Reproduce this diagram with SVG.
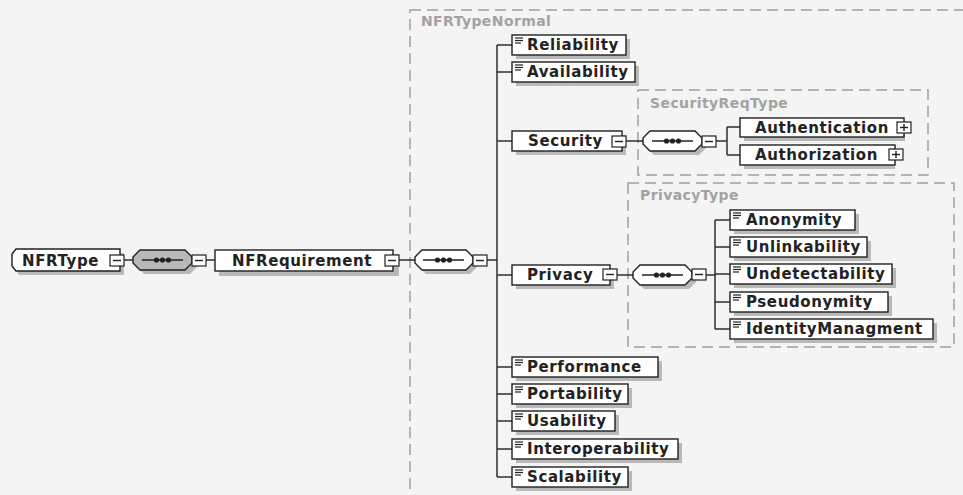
<svg xmlns="http://www.w3.org/2000/svg" width="963" height="495" viewBox="0 0 963 495">
<style>
.bg{fill:#f4f4f4}
.box{fill:#ffffff;stroke:#202020;stroke-width:1.4}
.sh{fill:#b9b9b9}
.t{font-family:"DejaVu Sans",Verdana,sans-serif;font-weight:bold;font-size:15px;letter-spacing:0.6px;fill:#222}
.lbl{font-family:"DejaVu Sans",Verdana,sans-serif;font-weight:bold;font-size:14px;letter-spacing:0.4px;fill:#a2a2a2}
.dash{fill:none;stroke:#9e9e9e;stroke-width:1.5;stroke-dasharray:11,6}
.ln{stroke:#202020;stroke-width:1.4;fill:none}
.btn{fill:#ffffff;stroke:#202020;stroke-width:1.2}
.ico{stroke:#202020;stroke-width:1.2}
</style>
<defs>
<g id="minus"><rect class="btn" x="0" y="0" width="14" height="11"/><line class="ln" x1="3" y1="5.5" x2="11" y2="5.5"/></g>
<g id="plus"><rect class="btn" x="0" y="0" width="14" height="11"/><line class="ln" x1="3" y1="5.5" x2="11" y2="5.5"/><line class="ln" x1="7" y1="2" x2="7" y2="9"/></g>
<g id="elic"><line class="ico" x1="3" y1="3" x2="11" y2="3"/><line class="ico" x1="3" y1="5.5" x2="11" y2="5.5"/><line class="ico" x1="3" y1="8" x2="9" y2="8"/></g>
<g id="dots"><line class="ln" x1="9" y1="10" x2="50" y2="10"/><circle cx="23.5" cy="10" r="2.6" fill="#202020"/><circle cx="29.5" cy="10" r="2.6" fill="#202020"/><circle cx="35.5" cy="10" r="2.6" fill="#202020"/></g>
</defs>
<rect class="bg" x="0" y="0" width="963" height="495"/>

<g id="containers">
<rect class="dash" x="410" y="10" width="600" height="600"/>
<text class="lbl" x="421" y="26">NFRTypeNormal</text>
<rect class="dash" x="638" y="90" width="290" height="85"/>
<text class="lbl" x="650" y="108">SecurityReqType</text>
<rect class="dash" x="628" y="183" width="326" height="164"/>
<text class="lbl" x="640" y="200">PrivacyType</text>
</g>

<g id="connectors">
<line class="ln" x1="124" y1="260" x2="133" y2="260"/>
<line class="ln" x1="206" y1="260" x2="215" y2="260"/>
<line class="ln" x1="399" y1="260" x2="415" y2="260"/>
<line class="ln" x1="487" y1="260" x2="497" y2="260"/>
<line class="ln" x1="497" y1="45" x2="497" y2="477"/>
<line class="ln" x1="497" y1="45" x2="512" y2="45"/>
<line class="ln" x1="497" y1="72" x2="512" y2="72"/>
<line class="ln" x1="497" y1="141" x2="512" y2="141"/>
<line class="ln" x1="497" y1="275" x2="512" y2="275"/>
<line class="ln" x1="497" y1="367" x2="512" y2="367"/>
<line class="ln" x1="497" y1="394" x2="512" y2="394"/>
<line class="ln" x1="497" y1="421" x2="512" y2="421"/>
<line class="ln" x1="497" y1="449" x2="512" y2="449"/>
<line class="ln" x1="497" y1="477" x2="512" y2="477"/>
<line class="ln" x1="626" y1="141" x2="643" y2="141"/>
<line class="ln" x1="716" y1="141" x2="727" y2="141"/>
<line class="ln" x1="727" y1="127" x2="727" y2="155"/>
<line class="ln" x1="727" y1="127" x2="740" y2="127"/>
<line class="ln" x1="727" y1="155" x2="740" y2="155"/>
<line class="ln" x1="617" y1="275" x2="633" y2="275"/>
<line class="ln" x1="706" y1="275" x2="715" y2="275"/>
<line class="ln" x1="715" y1="220" x2="715" y2="329"/>
<line class="ln" x1="715" y1="220" x2="730" y2="220"/>
<line class="ln" x1="715" y1="247" x2="730" y2="247"/>
<line class="ln" x1="715" y1="274" x2="730" y2="274"/>
<line class="ln" x1="715" y1="302" x2="730" y2="302"/>
<line class="ln" x1="715" y1="329" x2="730" y2="329"/>
</g>

<g id="NFRType">
<path class="sh" d="M19,253 H124 V275 H19 L16,270 V258 Z"/>
<path class="box" d="M16,249 H120 V271 H16 L12,266 V254 Z"/>
<text class="t" x="22" y="266">NFRType</text>
<use href="#minus" x="110" y="255"/>
</g>

<g id="seq1">
<path class="sh" d="M144,254 H190 L197,261 V267 L190,274 H144 L137,267 V261 Z"/>
<path d="M140,250 H185 L192,257 V263 L185,270 H140 L133,263 V257 Z" fill="#b8b8b8" stroke="#202020" stroke-width="1.4"/>
<use href="#dots" x="133" y="250"/>
<use href="#minus" x="192" y="255"/>
</g>

<g id="NFRequirement">
<rect class="sh" x="219" y="254" width="180" height="22"/>
<rect class="box" x="215" y="250" width="178" height="21"/>
<text class="t" x="232" y="266">NFRequirement</text>
<use href="#minus" x="385" y="255"/>
</g>

<g id="seq2">
<path class="sh" d="M426,254 H470 L477,261 V267 L470,274 H426 L419,267 V261 Z"/>
<path class="box" d="M422,250 H466 L473,257 V263 L466,270 H422 L415,263 V257 Z"/>
<use href="#dots" x="414" y="250"/>
<use href="#minus" x="473" y="255"/>
</g>

<g id="Reliability">
<rect class="sh" x="516" y="39" width="114" height="20"/>
<rect class="box" x="512" y="35" width="114" height="20"/>
<use href="#elic" x="512" y="35"/>
<text class="t" x="527" y="50">Reliability</text>
</g>
<g id="Availability">
<rect class="sh" x="516" y="66" width="123" height="20"/>
<rect class="box" x="512" y="62" width="123" height="20"/>
<use href="#elic" x="512" y="62"/>
<text class="t" x="527" y="77">Availability</text>
</g>

<g id="Security">
<rect class="sh" x="516" y="135" width="110" height="20"/>
<rect class="box" x="512" y="131" width="110" height="20"/>
<text class="t" x="528" y="146">Security</text>
<use href="#minus" x="612" y="136"/>
</g>
<g id="seq3">
<path class="sh" d="M654,135 H699 L706,142 V148 L699,155 H654 L647,148 V142 Z"/>
<path class="box" d="M650,131 H695 L702,138 V144 L695,151 H650 L643,144 V138 Z"/>
<use href="#dots" x="643" y="131"/>
<use href="#minus" x="702" y="136"/>
</g>
<g id="Authentication">
<rect class="sh" x="744" y="122" width="161" height="19"/>
<rect class="box" x="740" y="118" width="164" height="19"/>
<text class="t" x="755" y="133">Authentication</text>
<use href="#plus" x="897" y="122"/>
</g>
<g id="Authorization">
<rect class="sh" x="744" y="149" width="151" height="20"/>
<rect class="box" x="740" y="145" width="155" height="20"/>
<text class="t" x="755" y="160">Authorization</text>
<use href="#plus" x="889" y="149"/>
</g>

<g id="Privacy">
<rect class="sh" x="516" y="269" width="98" height="20"/>
<rect class="box" x="512" y="265" width="98" height="20"/>
<text class="t" x="527" y="280">Privacy</text>
<use href="#minus" x="603" y="269"/>
</g>
<g id="seq4">
<path class="sh" d="M644,269 H689 L696,276 V282 L689,289 H644 L637,282 V276 Z"/>
<path class="box" d="M640,265 H685 L692,272 V278 L685,285 H640 L633,278 V272 Z"/>
<use href="#dots" x="633" y="265"/>
<use href="#minus" x="692" y="269"/>
</g>
<g id="Anonymity">
<rect class="sh" x="734" y="214" width="125" height="20"/>
<rect class="box" x="730" y="210" width="125" height="20"/>
<use href="#elic" x="730" y="210"/>
<text class="t" x="746" y="225">Anonymity</text>
</g>
<g id="Unlinkability">
<rect class="sh" x="734" y="241" width="137" height="20"/>
<rect class="box" x="730" y="237" width="137" height="20"/>
<use href="#elic" x="730" y="237"/>
<text class="t" x="746" y="252">Unlinkability</text>
</g>
<g id="Undetectability">
<rect class="sh" x="734" y="268" width="162" height="20"/>
<rect class="box" x="730" y="264" width="162" height="20"/>
<use href="#elic" x="730" y="264"/>
<text class="t" x="746" y="279">Undetectability</text>
</g>
<g id="Pseudonymity">
<rect class="sh" x="734" y="296" width="158" height="20"/>
<rect class="box" x="730" y="292" width="158" height="20"/>
<use href="#elic" x="730" y="292"/>
<text class="t" x="746" y="307">Pseudonymity</text>
</g>
<g id="IdentityManagment">
<rect class="sh" x="734" y="323" width="203" height="20"/>
<rect class="box" x="730" y="319" width="203" height="20"/>
<use href="#elic" x="730" y="319"/>
<text class="t" x="746" y="334">IdentityManagment</text>
</g>

<g id="Performance">
<rect class="sh" x="516" y="361" width="146" height="20"/>
<rect class="box" x="512" y="357" width="146" height="20"/>
<use href="#elic" x="512" y="357"/>
<text class="t" x="527" y="372">Performance</text>
</g>
<g id="Portability">
<rect class="sh" x="516" y="388" width="116" height="20"/>
<rect class="box" x="512" y="384" width="116" height="20"/>
<use href="#elic" x="512" y="384"/>
<text class="t" x="527" y="399">Portability</text>
</g>
<g id="Usability">
<rect class="sh" x="516" y="415" width="103" height="20"/>
<rect class="box" x="512" y="411" width="103" height="20"/>
<use href="#elic" x="512" y="411"/>
<text class="t" x="527" y="426">Usability</text>
</g>
<g id="Interoperability">
<rect class="sh" x="516" y="443" width="166" height="20"/>
<rect class="box" x="512" y="439" width="166" height="20"/>
<use href="#elic" x="512" y="439"/>
<text class="t" x="527" y="454">Interoperability</text>
</g>
<g id="Scalability">
<rect class="sh" x="516" y="471" width="116" height="20"/>
<rect class="box" x="512" y="467" width="116" height="20"/>
<use href="#elic" x="512" y="467"/>
<text class="t" x="527" y="482">Scalability</text>
</g>
</svg>
